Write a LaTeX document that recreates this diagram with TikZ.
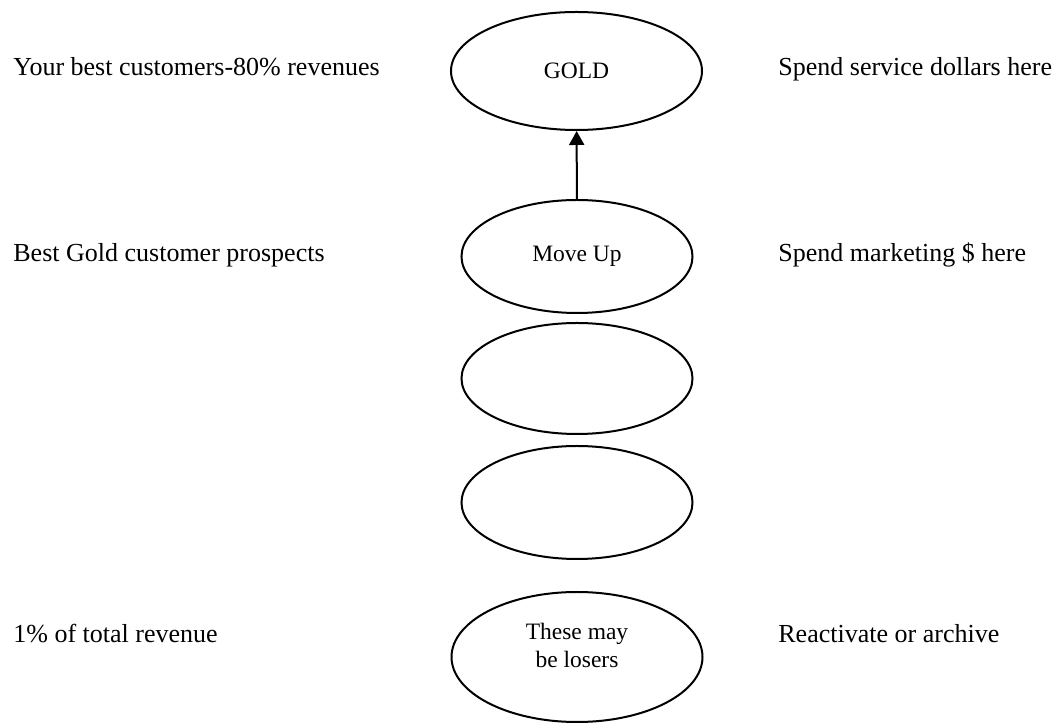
\documentclass[tikz,border=0pt]{standalone}
\usepackage{fontspec}
\setmainfont{Liberation Serif}
\usetikzlibrary{shapes.geometric,arrows.meta}

\tikzset{
  oval/.style={draw, ellipse, line width=1pt, inner sep=0pt,
    font=\fontsize{11.75}{14}\selectfont},
  side/.style={anchor=base west, inner sep=0pt,
    font=\fontsize{13}{15.6}\selectfont}
}

\begin{document}
\begin{tikzpicture}[x=0.5pt, y=0.5pt, >={Triangle[length=7pt,width=7.5pt]}]
    % page frame
    \useasboundingbox (0,0) rectangle (1061,723);

    % the ovals, top to bottom
    \node[oval, minimum width=125.5pt, minimum height=59pt] (gold) at (576.5,652) {GOLD};
    \node[oval, minimum width=115.5pt, minimum height=56.5pt] (moveup) at (577,466.5) {Move Up};
    \node[oval, minimum width=115.5pt, minimum height=55.5pt] (middle) at (577,344.5) {};
    \node[oval, minimum width=115.5pt, minimum height=56.5pt] (lower) at (577,220.5) {};
    \node[oval, minimum width=125.5pt, minimum height=65pt,
          label={[align=center, yshift=6pt, font=\fontsize{11.75}{14}\selectfont]center:These may\\be losers}]
          (losers) at (577,66) {};

    % move up arrow
    \draw[->, line width=1pt] (moveup) -- (gold);

    % notes on the left
    \node[side] (bestnote) at (13,647.5) {Your best customers-80\% revenues};
    \node[side] (prospnote) at (13,461) {Best Gold customer prospects};
    \node[side] (revnote) at (13,80) {1\% of total revenue};

    % notes on the right
    \node[side] (servnote) at (778,647.5) {Spend service dollars here};
    \node[side] (marknote) at (778,461) {Spend marketing \$ here};
    \node[side] (archnote) at (778,80) {Reactivate or archive};
\end{tikzpicture}
\end{document}
